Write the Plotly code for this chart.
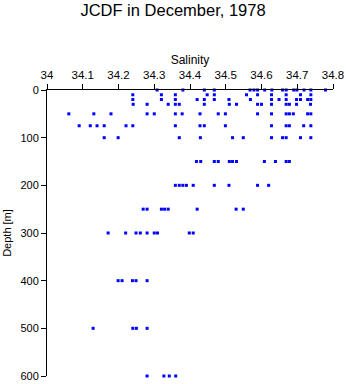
import plotly.graph_objects as go

# Salinity samples grouped by sampling depth (m)
depths = [0, 10, 20, 30, 50, 75, 100, 150, 200, 250, 300, 400, 500, 600]
salinity_by_depth = {
    0: [34.308, 34.380, 34.440, 34.468, 34.568, 34.579, 34.589, 34.609, 34.629,
        34.659, 34.669, 34.690, 34.699, 34.719, 34.738, 34.779],
    10: [34.240, 34.320, 34.359, 34.448, 34.468, 34.558, 34.589, 34.628, 34.669,
         34.709, 34.738],
    20: [34.240, 34.320, 34.359, 34.420, 34.440, 34.468, 34.509, 34.569, 34.628,
         34.649, 34.669, 34.698, 34.709, 34.729, 34.738],
    30: [34.241, 34.280, 34.339, 34.359, 34.370, 34.440, 34.510, 34.530, 34.589,
         34.600, 34.628, 34.669, 34.678, 34.698, 34.737],
    50: [34.061, 34.131, 34.179, 34.280, 34.300, 34.359, 34.378, 34.428, 34.479,
         34.499, 34.589, 34.628, 34.669, 34.678, 34.689, 34.729, 34.738],
    75: [34.090, 34.121, 34.140, 34.160, 34.221, 34.240, 34.359, 34.428, 34.440,
         34.499, 34.628, 34.669, 34.678, 34.718, 34.738],
    100: [34.160, 34.199, 34.370, 34.429, 34.519, 34.549, 34.628, 34.659, 34.669,
          34.709, 34.738],
    150: [34.418, 34.430, 34.468, 34.479, 34.510, 34.519, 34.530, 34.608, 34.639,
          34.669, 34.678],
    200: [34.359, 34.370, 34.380, 34.390, 34.409, 34.468, 34.509, 34.589, 34.620],
    250: [34.269, 34.280, 34.320, 34.329, 34.339, 34.420, 34.529, 34.549],
    300: [34.171, 34.220, 34.249, 34.261, 34.280, 34.300, 34.309, 34.398, 34.409],
    400: [34.199, 34.210, 34.239, 34.249, 34.280],
    500: [34.129, 34.240, 34.250, 34.280],
    600: [34.280, 34.327, 34.342, 34.360],
}

x_ticks = [34.0, 34.1, 34.2, 34.3, 34.4, 34.5, 34.6, 34.7, 34.8]
x_tick_text = ["34", "34.1", "34.2", "34.3", "34.4", "34.5", "34.6", "34.7", "34.8"]
y_ticks = [0, 100, 200, 300, 400, 500, 600]

sal = []
dep = []
for d in depths:
    for s in salinity_by_depth[d]:
        sal.append(s)
        dep.append(d)

fig = go.Figure(
    go.Scatter(
        x=sal, y=dep, mode="markers",
        marker=dict(symbol="square", size=3, color="#0000ff", line=dict(width=0)),
        cliponaxis=False,
        hoverinfo="x+y",
    )
)

font = "Arial, Liberation Sans, sans-serif"
fig.update_layout(
    width=346, height=384,
    margin=dict(l=47, r=13, t=90, b=8, autoexpand=False),
    paper_bgcolor="white", plot_bgcolor="white",
    showlegend=False,
    font=dict(family=font, color="black", size=11),
    title=dict(text="JCDF in December, 1978", x=0.5, xanchor="center",
               y=1 - 10 / 384, yanchor="middle", font=dict(size=16.5, family=font)),
    xaxis=dict(
        side="top", range=[34.0, 34.8], tickvals=x_ticks, ticktext=x_tick_text,
        showline=True, linecolor="black", linewidth=1, showgrid=False, zeroline=False,
        ticks="outside", ticklen=5, tickcolor="black", tickfont=dict(size=11.5),
        automargin=False,
        title=dict(text="Salinity", font=dict(size=12), standoff=2),
    ),
    yaxis=dict(
        range=[600, 0], tickvals=y_ticks,
        showline=True, linecolor="black", linewidth=1, showgrid=False, zeroline=False,
        ticks="outside", ticklen=5, tickcolor="black", tickfont=dict(size=11),
        automargin=False,
        title=dict(text="Depth [m]", font=dict(size=11), standoff=6),
    ),
)

fig.write_html("out.html")
